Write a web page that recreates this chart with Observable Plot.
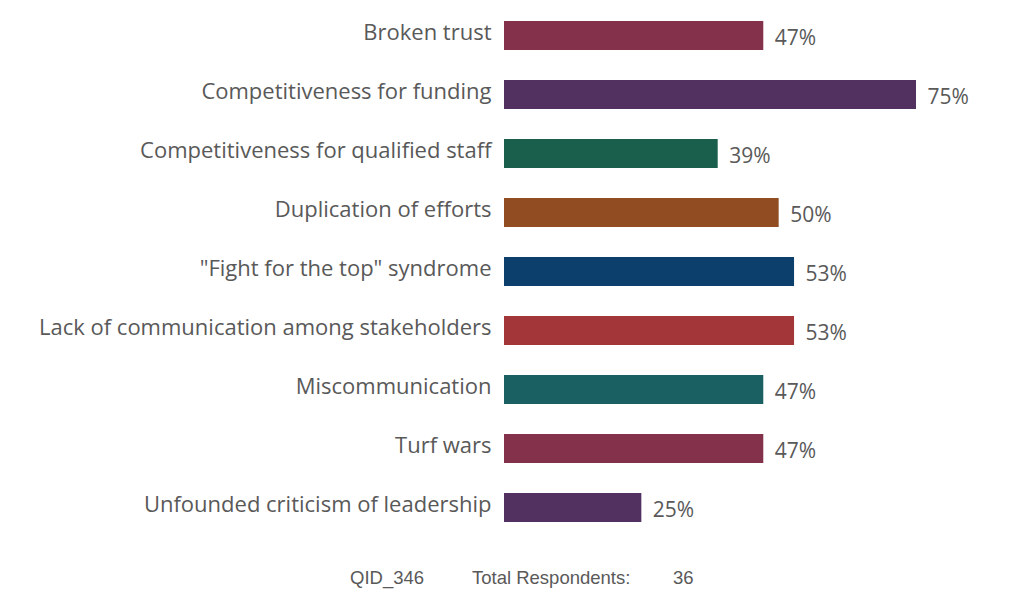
<!DOCTYPE html>
<html>
<head>
<meta charset="utf-8">
<script src="https://cdn.jsdelivr.net/npm/d3@7"></script>
<script src="https://cdn.jsdelivr.net/npm/@observablehq/plot@0.6"></script>
<style>
  body { margin: 0; background: #fff; }
  #wrap { position: relative; width: 1029px; height: 589px; }
  #footer { position: absolute; top: 566px; left: 0; width: 1029px; height: 24px; line-height: 24px;
            font-family: "Liberation Sans", Arial, sans-serif; font-size: 18.5px; color: #595959; }
  #footer span { position: absolute; top: 0; white-space: nowrap; }
</style>
</head>
<body>
<div id="wrap">
  <div id="chart"></div>
  <div id="footer">
    <span style="left:350px">QID_346</span>
    <span style="left:472px">Total Respondents:</span>
    <span style="left:673px">36</span>
  </div>
</div>
<script>
const categories = [
  "Broken trust",
  "Competitiveness for funding",
  "Competitiveness for qualified staff",
  "Duplication of efforts",
  "\"Fight for the top\" syndrome",
  "Lack of communication among stakeholders",
  "Miscommunication",
  "Turf wars",
  "Unfounded criticism of leadership"
];
const values = [0.472, 0.75, 0.389, 0.5, 0.528, 0.528, 0.472, 0.472, 0.25];
const colors = ["#84324C", "#52305F", "#1A5F4C", "#914C22", "#0C3F6B", "#A33638", "#1A6063", "#84324C", "#52305F"];

const data = categories.map((c, i) => ({category: c, value: values[i], color: colors[i]}));
const fmt = d3.format(".0%");

const chart = Plot.plot({
  width: 1029,
  height: 545,
  marginLeft: 504,
  marginRight: 113,
  marginTop: 14,
  marginBottom: 16.5,
  style: {fontFamily: "'Open Sans', sans-serif", fontSize: "21px", color: "#595959", background: "#fff"},
  x: {domain: [0, 0.75], axis: null},
  y: {domain: categories, paddingInner: 0.516, paddingOuter: 0.1, align: 0.5, label: null},
  color: {type: "identity"},
  marks: [
    Plot.barX(data, {x: "value", y: "category", fill: "color"}),
    Plot.text(data, {x: "value", y: "category", text: d => fmt(d.value), textAnchor: "start", dx: 11, dy: 2.5, fontSize: 21, fill: "#595959"}),
    Plot.axisY({tickSize: 0, tickPadding: 13, fontSize: 22, dy: -3, fill: "#595959", label: null})
  ]
});
document.getElementById("chart").appendChild(chart);
</script>
</body>
</html>
